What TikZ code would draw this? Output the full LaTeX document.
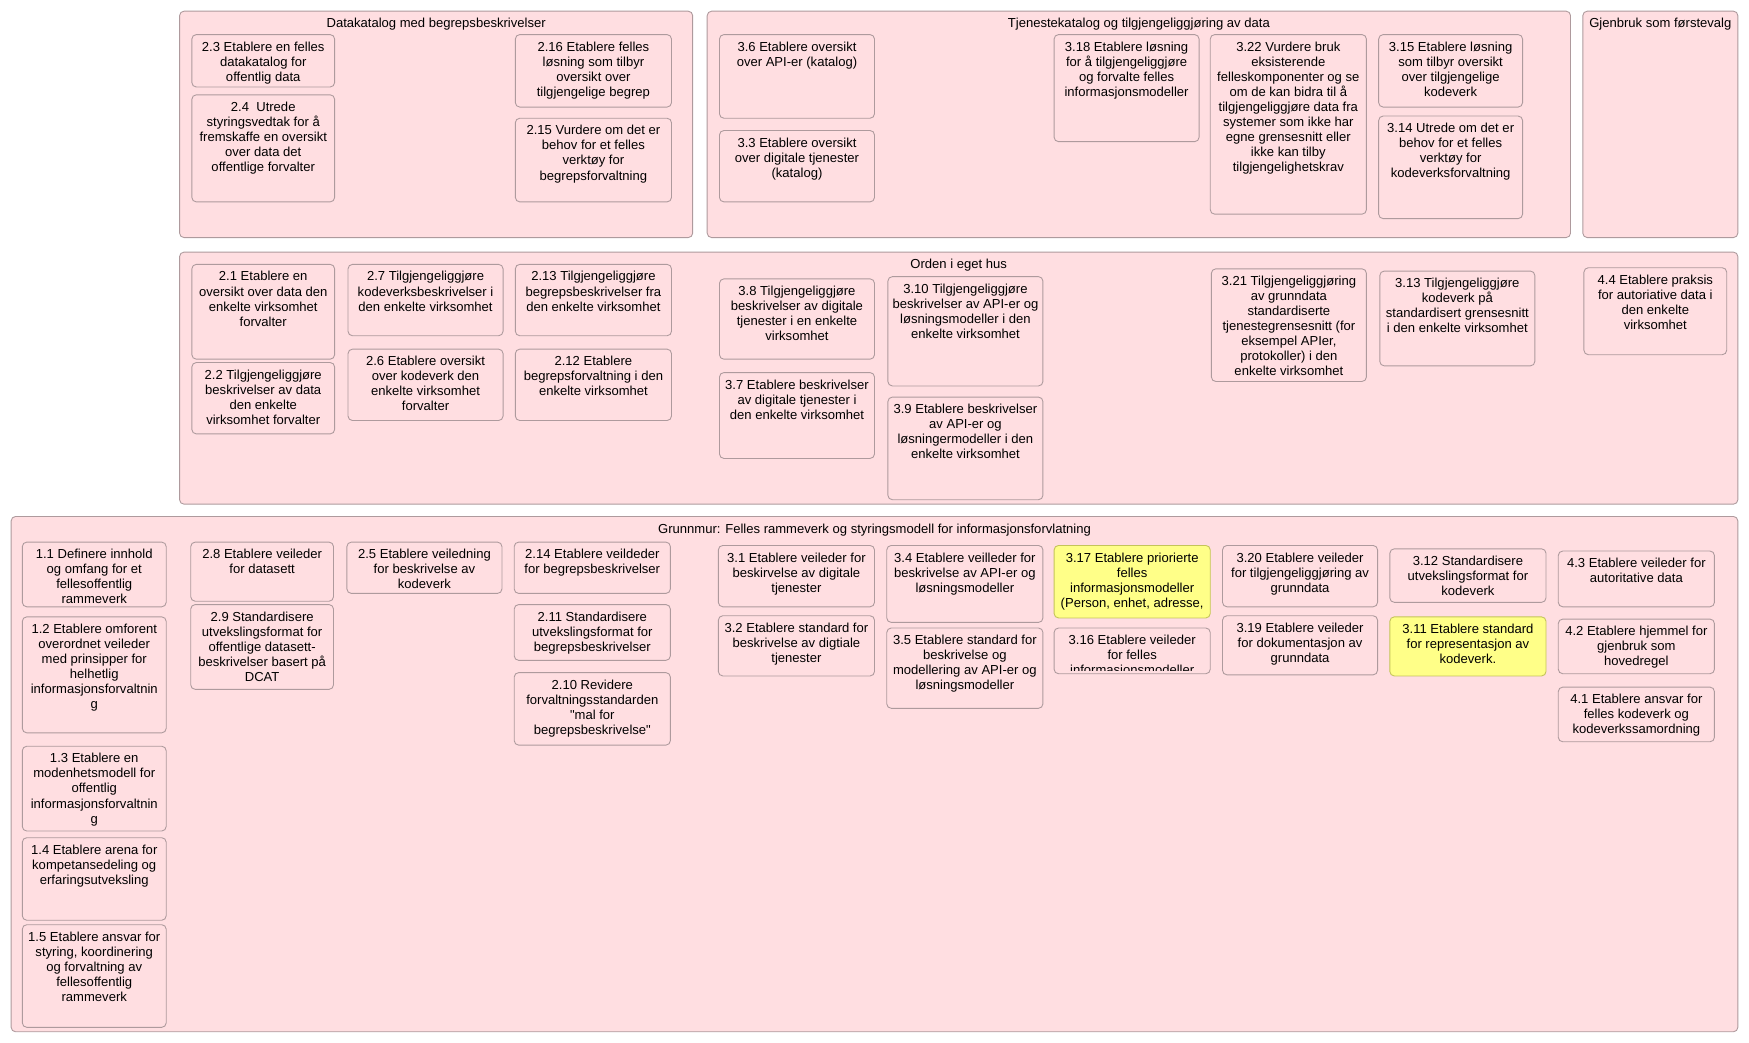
\documentclass[tikz,border=0pt]{standalone}
\usepackage{fontspec}
\setmainfont{Liberation Sans}[Ligatures=TeXOff]
\definecolor{boxfill}{HTML}{FFDEE1}
\definecolor{boxline}{HTML}{AE9A9D}
\definecolor{hifill}{HTML}{FFFF88}
\definecolor{hiline}{HTML}{C4C45A}
\begin{document}
\begin{tikzpicture}[x=1pt,y=-1pt,
  group/.style={draw=boxline,fill=boxfill,line width=0.8pt,rounded corners=4pt},
  task/.style={draw=boxline,fill=boxfill,line width=0.8pt,rounded corners=4pt},
  hitask/.style={task,draw=hiline,fill=hifill},
  txt/.style={anchor=north,align=center,inner sep=0pt,font=\fontsize{11.7}{13.5}\selectfont}]
\useasboundingbox (0,0) rectangle (1568,935);
\draw[group] (161,10) rectangle (621,213) node[txt] (datakatalog) at (391,16) {Datakatalog med begrepsbeskrivelser};
\draw[group] (634,10) rectangle (1408,213) node[txt] (tjenestekatalog) at (1021,16) {Tjenestekatalog og tilgjengeliggjøring av data};
\draw[group] (1419,10) rectangle (1558,213) node[txt] (gjenbruk) at (1488.5,16) {Gjenbruk som førstevalg};
\draw[group] (161,226) rectangle (1558,452) node[txt] (orden) at (859.5,232) {Orden i eget hus};
\draw[group] (10,463) rectangle (1558,925) node[txt] (grunnmur) at (784,469) {Grunnmur: Felles rammeverk og styringsmodell for informasjonsforvlatning};
\draw[task] (172,31) rectangle (300,78) node[txt] (t23) at (236,37) {2.3 Etablere en felles\\datakatalog for\\offentlig data};
\draw[task] (172,85) rectangle (300,181) node[txt] (t24) at (236,91) {2.4\ \ Utrede\\styringsvedtak for å\\fremskaffe en oversikt\\over data det\\offentlige forvalter};
\draw[task] (462,31) rectangle (602,96) node[txt] (t216) at (532,37) {2.16 Etablere felles\\løsning som tilbyr\\oversikt over\\tilgjengelige begrep};
\draw[task] (462,106) rectangle (602,181) node[txt] (t215) at (532,112) {2.15 Vurdere om det er\\behov for et felles\\verktøy for\\begrepsforvaltning};
\draw[task] (645,31) rectangle (784,106) node[txt] (t36) at (714.5,37) {3.6 Etablere oversikt\\over API-er (katalog)};
\draw[task] (645,117) rectangle (784,181) node[txt] (t33) at (714.5,123) {3.3 Etablere oversikt\\over digitale tjenester\\(katalog)};
\draw[task] (945,31) rectangle (1075,127) node[txt] (t318) at (1010,37) {3.18 Etablere løsning\\for å tilgjengeliggjøre\\og forvalte felles\\informasjonsmodeller};
\draw[task] (1085,31) rectangle (1225,192) node[txt] (t322) at (1155,37) {3.22 Vurdere bruk\\eksisterende\\felleskomponenter og se\\om de kan bidra til å\\tilgjengeliggjøre data fra\\systemer som ikke har\\egne grensesnitt eller\\ikke kan tilby\\tilgjengelighetskrav};
\draw[task] (1236,31) rectangle (1365,96) node[txt] (t315) at (1300.5,37) {3.15 Etablere løsning\\som tilbyr oversikt\\over tilgjengelige\\kodeverk};
\draw[task] (1236,104) rectangle (1365,196) node[txt] (t314) at (1300.5,110) {3.14 Utrede om det er\\behov for et felles\\verktøy for\\kodeverksforvaltning};
\draw[task] (172,237) rectangle (300,322) node[txt] (t21) at (236,243) {2.1 Etablere en\\oversikt over data den\\enkelte virksomhet\\forvalter};
\draw[task] (172,325) rectangle (300,389) node[txt] (t22) at (236,331) {2.2 Tilgjengeliggjøre\\beskrivelser av data\\den enkelte\\virksomhet forvalter};
\draw[task] (312,237) rectangle (451,301) node[txt] (t27) at (381.5,243) {2.7 Tilgjengeliggjøre\\kodeverksbeskrivelser i\\den enkelte virksomhet};
\draw[task] (312,313) rectangle (451,377) node[txt] (t26) at (381.5,319) {2.6 Etablere oversikt\\over kodeverk den\\enkelte virksomhet\\forvalter};
\draw[task] (462,237) rectangle (602,301) node[txt] (t213) at (532,243) {2.13 Tilgjengeliggjøre\\begrepsbeskrivelser fra\\den enkelte virksomhet};
\draw[task] (462,313) rectangle (602,377) node[txt] (t212) at (532,319) {2.12 Etablere\\begrepsforvaltning i den\\enkelte virksomhet};
\draw[task] (645,250) rectangle (784,322) node[txt] (t38) at (714.5,256) {3.8 Tilgjengeliggjøre\\beskrivelser av digitale\\tjenester i en enkelte\\virksomhet};
\draw[task] (645,334) rectangle (784,411) node[txt] (t37) at (714.5,340) {3.7 Etablere beskrivelser\\av digitale tjenester i\\den enkelte virksomhet};
\draw[task] (796,248) rectangle (935,346) node[txt] (t310) at (865.5,254) {3.10 Tilgjengeliggjøre\\beskrivelser av API-er og\\løsningsmodeller i den\\enkelte virksomhet};
\draw[task] (796,356) rectangle (935,448) node[txt] (t39) at (865.5,362) {3.9 Etablere beskrivelser\\av API-er og\\løsningermodeller i den\\enkelte virksomhet};
\draw[task] (1086,241) rectangle (1225,342) node[txt] (t321) at (1155.5,247) {3.21 Tilgjengeliggjøring\\av grunndata\\standardiserte\\tjenestegrensesnitt (for\\eksempel APIer,\\protokoller) i den\\enkelte virksomhet};
\draw[task] (1237,243) rectangle (1376,328) node[txt] (t313) at (1306.5,249) {3.13 Tilgjengeliggjøre\\kodeverk på\\standardisert grensesnitt\\i den enkelte virksomhet};
\draw[task] (1420,240) rectangle (1548,318) node[txt] (t44) at (1484,246) {4.4 Etablere praksis\\for autoriative data i\\den enkelte\\virksomhet};
\draw[task] (20,486) rectangle (149,544) node[txt] (t11) at (84.5,492) {1.1 Definere innhold\\og omfang for et\\fellesoffentlig\\rammeverk};
\draw[task] (20,553) rectangle (149,657) node[txt] (t12) at (84.5,559) {1.2 Etablere omforent\\overordnet veileder\\med prinsipper for\\helhetlig\\informasjonsforvaltnin\\g};
\draw[task] (20,669) rectangle (149,745) node[txt] (t13) at (84.5,675) {1.3 Etablere en\\modenhetsmodell for\\offentlig\\informasjonsforvaltnin\\g};
\draw[task] (20,751) rectangle (149,825) node[txt] (t14) at (84.5,757) {1.4 Etablere arena for\\kompetansedeling og\\erfaringsutveksling};
\draw[task] (20,829) rectangle (149,921) node[txt] (t15) at (84.5,835) {1.5 Etablere ansvar for\\styring, koordinering\\og forvaltning av\\fellesoffentlig\\rammeverk};
\draw[task] (171,486) rectangle (299,539) node[txt] (t28) at (235,492) {2.8 Etablere veileder\\for datasett};
\draw[task] (171,542) rectangle (299,618) node[txt] (t29) at (235,548) {2.9 Standardisere\\utvekslingsformat for\\offentlige datasett-\\beskrivelser basert på\\DCAT};
\draw[task] (311,486) rectangle (450,532) node[txt] (t25) at (380.5,492) {2.5 Etablere veiledning\\for beskrivelse av\\kodeverk};
\draw[task] (461,486) rectangle (601,532) node[txt] (t214) at (531,492) {2.14 Etablere veildeder\\for begrepsbeskrivelser};
\draw[task] (461,542) rectangle (601,592) node[txt] (t211) at (531,548) {2.11 Standardisere\\utvekslingsformat for\\begrepsbeskrivelser};
\draw[task] (461,603) rectangle (601,668) node[txt] (t210) at (531,609) {2.10 Revidere\\forvaltningsstandarden\\"mal for\\begrepsbeskrivelse"};
\draw[task] (644,489) rectangle (784,544) node[txt] (t31) at (714,495) {3.1 Etablere veileder for\\beskirvelse av digitale\\tjenester};
\draw[task] (644,552) rectangle (784,606) node[txt] (t32) at (714,558) {3.2 Etablere standard for\\beskrivelse av digtiale\\tjenester};
\draw[task] (795,489) rectangle (935,558) node[txt] (t34) at (865,495) {3.4 Etablere veilleder for\\beskrivelse av API-er og\\løsningsmodeller};
\draw[task] (795,563) rectangle (935,635) node[txt] (t35) at (865,569) {3.5 Etablere standard for\\beskrivelse og\\modellering av API-er og\\løsningsmodeller};
\draw[hitask] (945,489) rectangle (1085,554) node[txt] (t317) at (1015,495) {3.17 Etablere priorierte\\felles\\informasjonsmodeller\\(Person, enhet, adresse,};
\draw[task] (945,563) rectangle (1085,604);
\begin{scope}
\clip (946,564) rectangle (1084,601);
\node[txt] (t316) at (1015,569) {3.16 Etablere veileder\\for felles\\informasjonsmodeller};
\end{scope}
\draw[task] (1096,489) rectangle (1235,544) node[txt] (t320) at (1165.5,495) {3.20 Etablere veileder\\for tilgjengeliggjøring av\\grunndata};
\draw[task] (1096,552) rectangle (1235,605) node[txt] (t319) at (1165.5,558) {3.19 Etablere veileder\\for dokumentasjon av\\grunndata};
\draw[task] (1246,492) rectangle (1386,540) node[txt] (t312) at (1316,498) {3.12 Standardisere\\utvekslingsformat for\\kodeverk};
\draw[hitask] (1246,553) rectangle (1386,606) node[txt] (t311) at (1316,559) {3.11 Etablere standard\\for representasjon av\\kodeverk.};
\draw[task] (1397,494) rectangle (1537,544) node[txt] (t43) at (1467,500) {4.3 Etablere veileder for\\autoritative data};
\draw[task] (1397,555) rectangle (1537,604) node[txt] (t42) at (1467,561) {4.2 Etablere hjemmel for\\gjenbruk som\\hovedregel};
\draw[task] (1397,616) rectangle (1537,665) node[txt] (t41) at (1467,622) {4.1 Etablere ansvar for\\felles kodeverk og\\kodeverkssamordning};
\end{tikzpicture}
\end{document}
